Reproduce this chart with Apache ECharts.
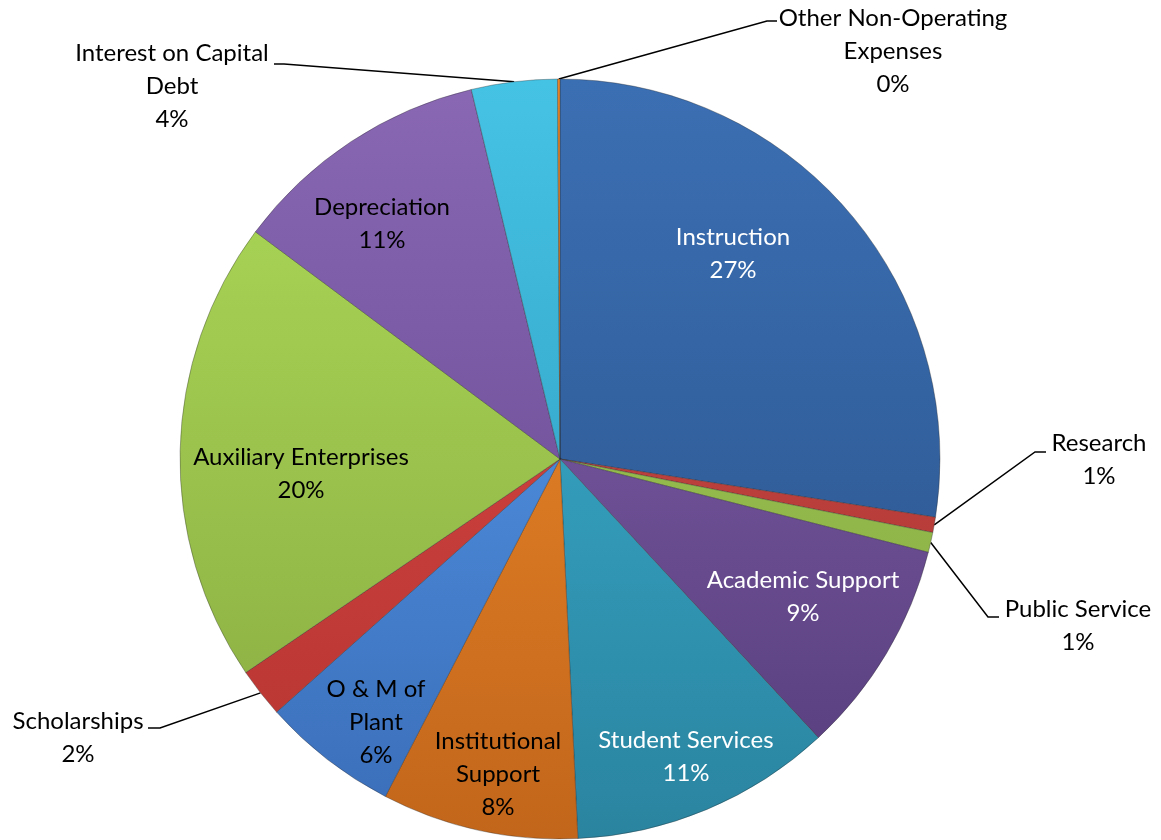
<!DOCTYPE html>
<html>
<head>
<meta charset="utf-8">
<script src="https://cdn.jsdelivr.net/npm/echarts@6/dist/echarts.min.js"></script>
<style>
  html, body { margin: 0; padding: 0; background: #ffffff; }
  #chart { width: 1161px; height: 840px; }
</style>
</head>
<body>
<div id="chart"></div>
<script>
// Expense categories, clockwise from 12 o'clock (line breaks as wrapped in the labels)
const categories = [
  'Instruction',
  'Research',
  'Public Service',
  'Academic Support',
  'Student Services',
  'Institutional\nSupport',
  'O & M of\nPlant',
  'Scholarships',
  'Auxiliary Enterprises',
  'Depreciation',
  'Interest on Capital\nDebt',
  'Other Non-Operating\nExpenses'
];

// Share of total expenses, percent (labels show these rounded to whole percents)
const shares = [27.45, 0.65, 0.85, 9.15, 11.15, 8.35, 5.8, 2.1, 19.7, 11.05, 3.65, 0.1];

// Slice shading: colour at the top and at the bottom of the pie
const topColors = ['#3b6fb3', '#d04a46', '#a2cc55', '#8664b1', '#3cb5d5', '#f58f2d',
                   '#5aa2f4', '#dd4845', '#addb58', '#8a68b4', '#45c3e5', '#f08a2a'];
const bottomColors = ['#2a5289', '#a83532', '#85a843', '#553c7a', '#2a84a0', '#c2661b',
                      '#3a6db8', '#b53532', '#88aa41', '#5f4389', '#2b94b6', '#c2661b'];

// Label text colours
const labelColors = ['#ffffff', '#000000', '#000000', '#ffffff', '#ffffff', '#000000',
                     '#000000', '#000000', '#000000', '#000000', '#000000', '#000000'];

// Which labels sit outside the pie with a leader line
const outsideLabel = [false, true, true, false, false, false, false, true, false, false, true, true];

// Label placement: block centre, and leader-line elbow / end for outside labels
const labelPlacement = [
  { x: 733, y: 254 },
  { x: 1099, y: 460, elbow: [1035, 452], end: [1046, 452] },
  { x: 1078, y: 626, elbow: [988, 617], end: [999, 617] },
  { x: 803, y: 597 },
  { x: 686, y: 757 },
  { x: 498, y: 774 },
  { x: 376, y: 722 },
  { x: 78, y: 738, elbow: [160, 728], end: [148, 728] },
  { x: 301, y: 474 },
  { x: 382, y: 224 },
  { x: 172, y: 86, elbow: [284, 64], end: [274, 64] },
  { x: 893, y: 51, elbow: [767, 21], end: [777, 21] }
];

const PIE_TOP = 79, PIE_BOTTOM = 839;

const seriesData = categories.map((name, i) => ({
  name: name,
  value: shares[i],
  itemStyle: {
    color: {
      type: 'linear', global: true,
      x: 0, y: PIE_TOP, x2: 0, y2: PIE_BOTTOM,
      colorStops: [
        { offset: 0, color: topColors[i] },
        { offset: 1, color: bottomColors[i] }
      ]
    }
  },
  label: {
    position: outsideLabel[i] ? 'outside' : 'inside',
    color: labelColors[i]
  },
  labelLine: { show: outsideLabel[i] }
}));

const chart = echarts.init(document.getElementById('chart'), null, { renderer: 'canvas' });

chart.setOption({
  animation: false,
  backgroundColor: '#ffffff',
  series: [{
    type: 'pie',
    center: [560, 459],
    radius: 380,
    startAngle: 90,
    clockwise: true,
    percentPrecision: 2,
    avoidLabelOverlap: false,
    data: seriesData,
    itemStyle: {
      borderColor: 'rgba(40,40,40,0.35)',
      borderWidth: 1
    },
    label: {
      show: true,
      formatter: function (p) {
        return p.name + '\n' + Math.round(p.percent) + '%';
      },
      fontFamily: 'Lato',
      fontSize: 24,
      lineHeight: 33,
      align: 'center'
    },
    labelLine: {
      length: 20,
      length2: 10,
      lineStyle: { color: '#000000', width: 1.5 }
    },
    emphasis: { disabled: true },
    labelLayout: function (params) {
      const p = labelPlacement[params.dataIndex];
      const res = { x: p.x, y: p.y, align: 'center', verticalAlign: 'middle' };
      if (p.elbow && params.labelLinePoints) {
        const start = params.labelLinePoints[0];
        res.labelLinePoints = [start, p.elbow, p.end];
      }
      return res;
    }
  }]
});
</script>
</body>
</html>
